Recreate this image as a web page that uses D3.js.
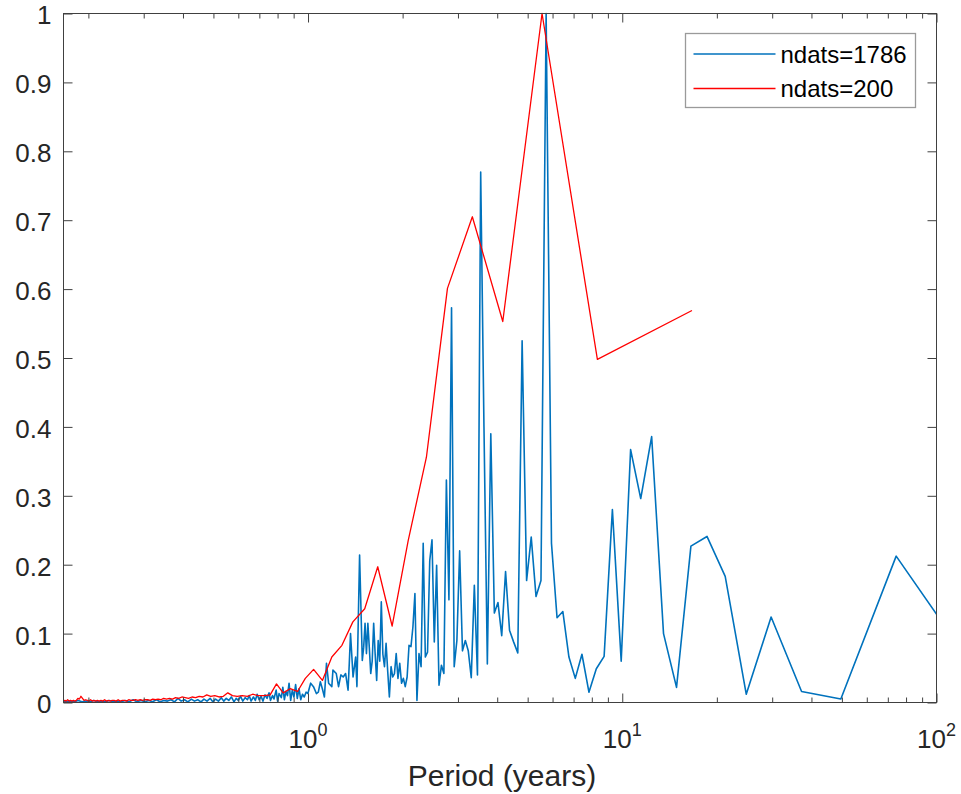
<!DOCTYPE html>
<html>
<head>
<meta charset="utf-8">
<script src="https://cdn.jsdelivr.net/npm/d3@7"></script>
<style>
  body { margin: 0; background: #fff; }
  svg { display: block; font-family: "Liberation Sans", Arial, sans-serif; }
  .axis line { stroke: #404040; }
  .axis text { fill: #262626; font-size: 26px; }
</style>
</head>
<body>
<svg id="chart"></svg>
<script>
// record lengths (years) of the two spectra: monthly data
const blueSpan = 1786 / 12;
const redSpan = 200 / 12;

// ndats=1786 : harmonic index and normalised power
const blueHarmonic = [1, 2, 3, 4, 5, 6, 7, 8, 9, 10, 11, 12, 13, 14, 15, 16, 17, 18, 19, 20,
  21, 22, 23, 24, 25, 26, 27, 28, 29, 30, 31, 32, 33, 34, 35, 36, 37, 38, 39, 40,
  41, 42, 43, 44, 45, 46, 47, 48, 49, 50, 51, 52, 53, 54, 55, 56, 57, 58, 59, 60,
  61, 62, 63, 64, 65, 66, 67, 68, 69, 70, 71, 72, 73, 74, 75, 76, 77, 78, 79, 80,
  81, 82, 83, 84, 85, 86, 87, 88, 89, 90, 91, 92, 93, 94, 95, 96, 97, 98, 99, 100,
  102, 104, 105, 107, 109, 110, 111, 113, 115, 117, 119, 121, 124, 125, 128, 130, 132, 134, 136, 138,
  140, 143, 146, 149, 151, 153, 155, 157, 159, 161, 163, 165, 167, 169, 171, 173, 175, 177, 179, 181,
  184, 186, 188, 191, 193, 196, 198, 201, 204, 207, 210, 213, 216, 219, 222, 226, 229, 232, 236, 240,
  244, 248, 252, 256, 261, 266, 271, 276, 281, 287, 293, 299, 305, 312, 319, 326, 334, 342, 350, 359,
  368, 377, 386, 396, 406, 417, 428, 440, 452, 465, 478, 492, 506, 521, 536, 552, 568, 585, 602, 620,
  638, 657, 676, 696, 716, 737, 758, 780, 802, 825, 848, 871, 893];
const bluePower = [0.015, 0.2125, 0.005, 0.016, 0.124, 0.012, 0.183, 0.241, 0.227, 0.022, 0.100, 0.386, 0.296, 0.367, 0.060, 0.280, 0.067, 0.049, 0.015, 0.070,
  0.035, 0.066, 0.132, 0.123, 0.231, 1.000, 0.177, 0.154, 0.240, 0.177, 0.525, 0.072, 0.088, 0.105, 0.190, 0.097, 0.145, 0.130, 0.390, 0.056,
  0.400, 0.770, 0.040, 0.170, 0.036, 0.075, 0.090, 0.075, 0.220, 0.090, 0.052, 0.573, 0.149, 0.323, 0.042, 0.054, 0.025, 0.199, 0.088, 0.236,
  0.206, 0.073, 0.066, 0.231, 0.052, 0.071, 0.003, 0.158, 0.110, 0.081, 0.083, 0.037, 0.023, 0.035, 0.028, 0.057, 0.035, 0.071, 0.042, 0.037,
  0.052, 0.008, 0.045, 0.086, 0.052, 0.070, 0.146, 0.060, 0.090, 0.032, 0.070, 0.115, 0.060, 0.042, 0.080, 0.115, 0.071, 0.115, 0.080, 0.061,
  0.214, 0.023, 0.066, 0.037, 0.100, 0.057, 0.018, 0.042, 0.037, 0.040, 0.023, 0.042, 0.047, 0.023, 0.028, 0.057, 0.008, 0.020, 0.030, 0.015,
  0.013, 0.023, 0.028, 0.013, 0.015, 0.008, 0.012, 0.004, 0.020, 0.006, 0.026, 0.008, 0.018, 0.003, 0.028, 0.010, 0.016, 0.004, 0.022, 0.007,
  0.013, 0.002, 0.018, 0.005, 0.010, 0.003, 0.014, 0.006, 0.011, 0.002, 0.009, 0.004, 0.012, 0.003, 0.008, 0.002, 0.010, 0.004, 0.007, 0.002,
  0.009, 0.003, 0.006, 0.001, 0.008, 0.003, 0.006, 0.002, 0.007, 0.002, 0.005, 0.001, 0.006, 0.002, 0.005, 0.001, 0.004, 0.002, 0.005, 0.001,
  0.004, 0.002, 0.006, 0.001, 0.004, 0.002, 0.003, 0.001, 0.004, 0.001, 0.003, 0.001, 0.003, 0.001, 0.004, 0.001, 0.003, 0.001, 0.002, 0.001,
  0.003, 0.001, 0.002, 0.001, 0.003, 0.001, 0.002, 0.001, 0.003, 0.001, 0.002, 0.001, 0.002];

// ndats=200 : harmonics 1..100
const redHarmonic = d3.range(1, 101);
const redPower = [0.569, 0.498, 1.000, 0.553, 0.705, 0.601, 0.356, 0.235, 0.111, 0.197,
  0.136, 0.117, 0.083, 0.066, 0.032, 0.048, 0.035, 0.016, 0.020, 0.014,
  0.027, 0.011, 0.010, 0.010, 0.012, 0.009, 0.010, 0.009, 0.010, 0.014,
  0.009, 0.008, 0.010, 0.009, 0.011, 0.008, 0.009, 0.007, 0.008, 0.006,
  0.007, 0.008, 0.006, 0.007, 0.005, 0.006, 0.005, 0.006, 0.004, 0.005,
  0.004, 0.005, 0.003, 0.004, 0.004, 0.003, 0.004, 0.003, 0.004, 0.003,
  0.003, 0.004, 0.002, 0.003, 0.003, 0.002, 0.004, 0.002, 0.003, 0.003,
  0.002, 0.003, 0.002, 0.004, 0.002, 0.003, 0.002, 0.003, 0.002, 0.003,
  0.002, 0.004, 0.002, 0.003, 0.004, 0.003, 0.006, 0.009, 0.005, 0.006,
  0.003, 0.002, 0.003, 0.002, 0.003, 0.002, 0.004, 0.002, 0.003, 0.002];

const yTicks = [0, 0.1, 0.2, 0.3, 0.4, 0.5, 0.6, 0.7, 0.8, 0.9, 1];
const xMajor = [1, 10, 100];
const xMajorExp = ['0', '1', '2'];
const xMinor = [0.2, 0.3, 0.4, 0.5, 0.6, 0.7, 0.8, 0.9, 2, 3, 4, 5, 6, 7, 8, 9,
  20, 30, 40, 50, 60, 70, 80, 90];
const legendLabels = ['ndats=1786', 'ndats=200'];
const colors = ['#0072BD', '#FF0000'];

const w = 961;
const h = 794;
const padLeft = 63.5, padRight = 936.5, padTop = 13.5, padBottom = 702.5;

const svg = d3.select('#chart').attr('width', w).attr('height', h);

const xScale = d3.scaleLog().domain([1 / 6, 100]).range([padLeft, padRight]);
const yScale = d3.scaleLinear().domain([0, 1]).range([padBottom, padTop]);

const blueData = blueHarmonic.map((k, i) => [blueSpan / k, bluePower[i]]);
const redData = redHarmonic.map((k, i) => [redSpan / k, redPower[i]]);

svg.append('clipPath').attr('id', 'plot-clip')
  .append('rect')
  .attr('x', padLeft).attr('y', padTop - 2)
  .attr('width', padRight - padLeft).attr('height', padBottom - padTop + 2);

const line = d3.line()
  .x((d) => xScale(d[0]))
  .y((d) => yScale(d[1]));

const plot = svg.append('g').attr('clip-path', 'url(#plot-clip)');
[blueData, redData].forEach((data, i) => {
  plot.append('path')
    .datum(data)
    .attr('d', line)
    .attr('fill', 'none')
    .attr('stroke', colors[i])
    .attr('stroke-width', i === 0 ? 1.6 : 1.3)
    .attr('stroke-linejoin', 'round');
});

// axes: ticks point inward on all four sides, box drawn separately
const noLabel = () => '';
function addAxis(axis, transform) {
  const g = svg.append('g').attr('class', 'axis').attr('transform', transform).call(axis);
  g.select('.domain').remove();
  return g;
}
addAxis(d3.axisBottom(xScale).tickValues(xMajor).tickSize(-9).tickFormat(noLabel), `translate(0,${padBottom})`);
addAxis(d3.axisBottom(xScale).tickValues(xMinor).tickSize(-5).tickFormat(noLabel), `translate(0,${padBottom})`);
addAxis(d3.axisTop(xScale).tickValues(xMajor).tickSize(-9).tickFormat(noLabel), `translate(0,${padTop})`);
addAxis(d3.axisTop(xScale).tickValues(xMinor).tickSize(-5).tickFormat(noLabel), `translate(0,${padTop})`);
const yAxisG = addAxis(d3.axisLeft(yScale).tickValues(yTicks).tickSize(-9).tickPadding(12)
  .tickFormat((d) => (d === 0 || d === 1 ? String(d) : d3.format('.1f')(d))), `translate(${padLeft},0)`);
yAxisG.selectAll('text').attr('dy', '0.4em');
addAxis(d3.axisRight(yScale).tickValues(yTicks).tickSize(-9).tickFormat(noLabel), `translate(${padRight},0)`);

svg.append('rect')
  .attr('x', padLeft).attr('y', padTop)
  .attr('width', padRight - padLeft).attr('height', padBottom - padTop)
  .attr('fill', 'none').attr('stroke', '#404040').attr('stroke-width', 1);

// 10^n labels
const expLabels = svg.append('g').attr('class', 'axis');
xMajor.forEach((v, i) => {
  const t = expLabels.append('text')
    .attr('x', xScale(v))
    .attr('y', 748)
    .attr('text-anchor', 'middle');
  t.append('tspan').text('10');
  t.append('tspan').attr('dy', -12).style('font-size', '18px').text(xMajorExp[i]);
});

svg.append('text')
  .attr('x', (padLeft + padRight) / 2 + 2)
  .attr('y', 786)
  .attr('text-anchor', 'middle')
  .attr('fill', '#262626')
  .style('font-size', '30px')
  .text('Period (years)');

// legend
const legend = svg.append('g').attr('transform', 'translate(685.5,33.5)');
legend.append('rect')
  .attr('width', 230).attr('height', 74)
  .attr('fill', '#fff').attr('stroke', '#9a9a9a').attr('stroke-width', 1.3);
legendLabels.forEach((label, i) => {
  const y = 20.5 + i * 34.5;
  legend.append('line')
    .attr('x1', 8).attr('x2', 90).attr('y1', y).attr('y2', y)
    .attr('stroke', colors[i]).attr('stroke-width', 1.3);
  legend.append('text')
    .attr('x', 95).attr('y', y)
    .attr('dominant-baseline', 'central')
    .attr('fill', '#000')
    .style('font-size', '24px')
    .text(label);
});
</script>
</body>
</html>
